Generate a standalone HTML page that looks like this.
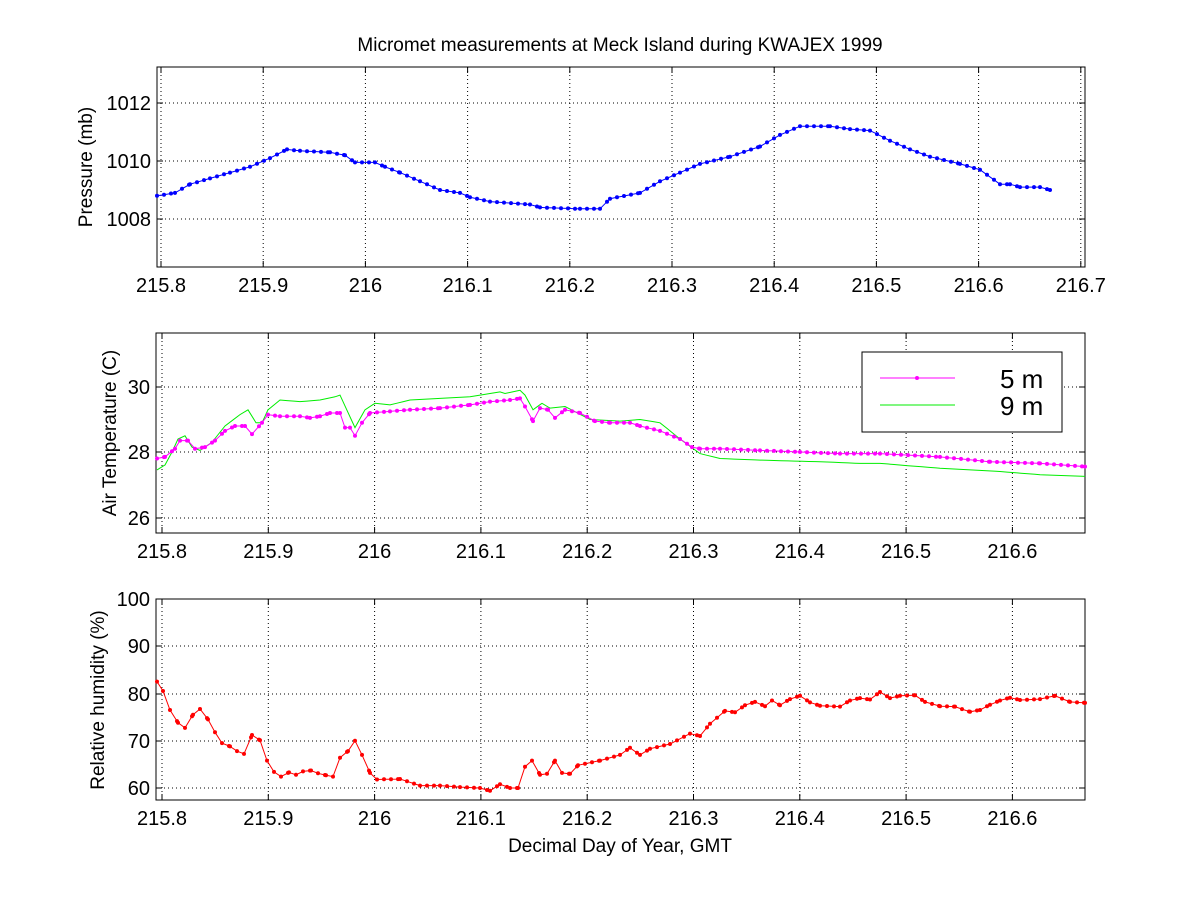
<!DOCTYPE html>
<html><head><meta charset="utf-8"><style>
body{margin:0;background:#fff}
svg{display:block;font-family:"Liberation Sans",Arial,sans-serif}
</style></head><body>
<svg id="s" width="1200" height="900" xmlns="http://www.w3.org/2000/svg"></svg>
<script>
var s=document.getElementById('s'),h='';
function T(x,y,t,sz,anc,rot){h+='<text x="'+x+'" y="'+y+'" font-size="'+sz+'" text-anchor="'+(anc||'middle')+'"'+(rot?' transform="rotate(-90 '+x+' '+y+')"':'')+'>'+t+'</text>';}
function L(x1,y1,x2,y2,st){h+='<line x1="'+x1+'" y1="'+y1+'" x2="'+x2+'" y2="'+y2+'" '+st+'/>';}
var G='stroke="#000" stroke-width="1" stroke-dasharray="1,3"';
function axes(l,t,r,b,xt,yt){
 h+='<rect x="'+l+'" y="'+t+'" width="'+(r-l)+'" height="'+(b-t)+'" fill="#fff" stroke="none"/>';
 xt.forEach(function(a){L(a[0],t,a[0],b,G);L(a[0],b,a[0],b-6,'stroke="#000"');L(a[0],t,a[0],t+6,'stroke="#000"');T(a[0],b+25,a[1],20);});
 yt.forEach(function(a){L(l,a[0],r,a[0],G);L(l,a[0],l+6,a[0],'stroke="#000"');L(r,a[0],r-6,a[0],'stroke="#000"');T(l-6,a[0]+7,a[1],20,'end');});
 h+='<rect x="'+l+'" y="'+t+'" width="'+(r-l)+'" height="'+(b-t)+'" fill="none" stroke="#000"/>';
}
function series(pts,yf,col,mk,step){
 var out=[];
 for(var i=0;i<pts.length-1;i++){var a=pts[i],b=pts[i+1];for(var x=a[0];x<b[0];x+=step){out.push([x,a[1]+(b[1]-a[1])*(x-a[0])/(b[0]-a[0])]);}}
 out.push(pts[pts.length-1]);
 var p=out.map(function(q){return q[0].toFixed(1)+','+yf(q[1]).toFixed(1)}).join(' ');
 h+='<polyline points="'+p+'" fill="none" stroke="'+col+'" stroke-width="1"/>';
 if(mk)out.forEach(function(q){h+='<circle cx="'+q[0].toFixed(1)+'" cy="'+yf(q[1]).toFixed(1)+'" r="2" fill="'+col+'"/>';});
}
T(620,51,'Micromet measurements at Meck Island during KWAJEX 1999',19);
var x1=[],lab=['215.8','215.9','216','216.1','216.2','216.3','216.4','216.5','216.6','216.7'];
for(var i=0;i<10;i++)x1.push([161+i*102.2,lab[i]]);
axes(157,67,1085,267,x1,[[103,'1012'],[161,'1010'],[219,'1008']]);
T(92,167,'Pressure (mb)',19,'middle',1);
var P=[[157,1008.8],[175,1008.9],[190,1009.2],[210,1009.4],[230,1009.6],[250,1009.8],[270,1010.1],[287,1010.4],[300,1010.35],[330,1010.3],[345,1010.2],[355,1009.95],[375,1009.95],[385,1009.8],[400,1009.6],[420,1009.3],[440,1009.0],[460,1008.9],[470,1008.75],[490,1008.6],[530,1008.5],[540,1008.4],[580,1008.35],[600,1008.35],[610,1008.7],[640,1008.9],[660,1009.3],[680,1009.6],[700,1009.9],[730,1010.15],[760,1010.5],[780,1010.9],[800,1011.2],[830,1011.2],[850,1011.1],[870,1011.05],[890,1010.7],[910,1010.4],[930,1010.15],[960,1009.9],[980,1009.7],[1000,1009.2],[1010,1009.2],[1020,1009.1],[1040,1009.1],[1050,1009.0]];
series(P,function(v){return 161-(v-1010)*29},'#0000ff',1,7);
var x2=[];for(var i=0;i<9;i++)x2.push([162+i*106.3,lab[i]]);
axes(156,333,1085,533,x2,[[387,'30'],[452,'28'],[518,'26']]);
T(116,433,'Air Temperature (C)',19,'middle',1);
var ty=function(v){return 452-(v-28)*32.5};
var T9=[[157,27.45],[165,27.6],[172,28.0],[178,28.4],[185,28.5],[192,28.15],[200,28.05],[212,28.3],[225,28.8],[240,29.15],[248,29.3],[256,28.9],[262,28.9],[268,29.3],[280,29.6],[300,29.55],[320,29.6],[335,29.7],[340,29.75],[355,28.75],[365,29.3],[375,29.5],[390,29.45],[410,29.6],[440,29.65],[470,29.7],[490,29.8],[500,29.85],[505,29.8],[520,29.9],[525,29.75],[533,29.3],[542,29.5],[550,29.35],[565,29.4],[590,29.0],[620,28.95],[640,29.0],[660,28.9],[680,28.4],[700,27.95],[720,27.8],[760,27.75],[820,27.7],[860,27.65],[880,27.65],[940,27.5],[1000,27.4],[1040,27.3],[1085,27.25]];
series(T9,ty,'#00ee00',0,7);
var T5=[[157,27.8],[165,27.85],[175,28.1],[180,28.35],[188,28.35],[195,28.1],[205,28.15],[215,28.35],[225,28.65],[235,28.8],[245,28.8],[252,28.55],[262,28.9],[268,29.15],[280,29.1],[300,29.1],[310,29.05],[320,29.1],[330,29.2],[340,29.2],[345,28.75],[350,28.75],[355,28.5],[362,28.9],[370,29.2],[390,29.25],[410,29.3],[440,29.35],[470,29.45],[490,29.55],[510,29.6],[520,29.65],[525,29.4],[533,28.95],[540,29.35],[548,29.3],[555,29.05],[565,29.3],[580,29.2],[595,28.95],[610,28.9],[630,28.9],[640,28.8],[660,28.65],[680,28.4],[692,28.15],[700,28.1],[720,28.1],[760,28.05],[800,28.0],[840,27.95],[880,27.95],[940,27.85],[990,27.7],[1040,27.65],[1085,27.55]];
series(T5,ty,'#ff00ff',1,7);
h+='<rect x="862" y="352" width="200" height="80" fill="#fff" stroke="#000"/>';
L(880,378,955,378,'stroke="#ff00ff"');h+='<circle cx="917" cy="378" r="2" fill="#ff00ff"/>';
L(880,405,955,405,'stroke="#00ee00"');
T(1000,388,'5 m',26,'start');T(1000,415,'9 m',26,'start');
axes(156,599,1085,800,x2,[[599,'100'],[646,'90'],[694,'80'],[741,'70'],[788,'60']]);
T(104,700,'Relative humidity (%)',19,'middle',1);
var R=[[157,82.5],[163,80.5],[170,76.5],[178,73.8],[185,72.7],[193,75.5],[200,76.7],[208,74.5],[215,71.8],[222,69.5],[230,68.8],[237,67.8],[244,67.2],[252,71.2],[260,70.1],[267,65.8],[274,63.4],[281,62.4],[289,63.3],[296,62.8],[303,63.5],[311,63.7],[318,63.1],[326,62.7],[333,62.4],[340,66.4],[348,67.8],[355,70.0],[362,67],[370,63.2],[377,61.8],[400,61.9],[420,60.5],[440,60.5],[460,60.2],[480,60.0],[490,59.4],[500,60.8],[510,60.0],[518,60.0],[525,64.5],[532,65.8],[540,62.8],[547,63.0],[555,65.8],[562,63.2],[570,63],[578,64.8],[600,65.8],[620,67.0],[630,68.5],[640,67],[650,68.3],[670,69.3],[690,71.5],[700,71.0],[710,73.6],[725,76.3],[735,76.0],[745,77.5],[755,78.2],[765,77.3],[772,78.5],[780,77.5],[790,78.8],[800,79.5],[810,78.1],[820,77.4],[840,77.2],[850,78.5],[860,79],[870,78.7],[880,80.3],[890,79.0],[900,79.5],[915,79.6],[925,78.2],[940,77.3],[955,77.2],[970,76.1],[980,76.5],[990,77.6],[1000,78.5],[1010,79.1],[1020,78.6],[1040,78.8],[1055,79.5],[1070,78.2],[1085,78]];
series(R,function(v){return 788-(v-60)*4.73},'#ff0000',1,7);
T(620,852,'Decimal Day of Year, GMT',19);
s.innerHTML=h;
</script>
</body></html>
